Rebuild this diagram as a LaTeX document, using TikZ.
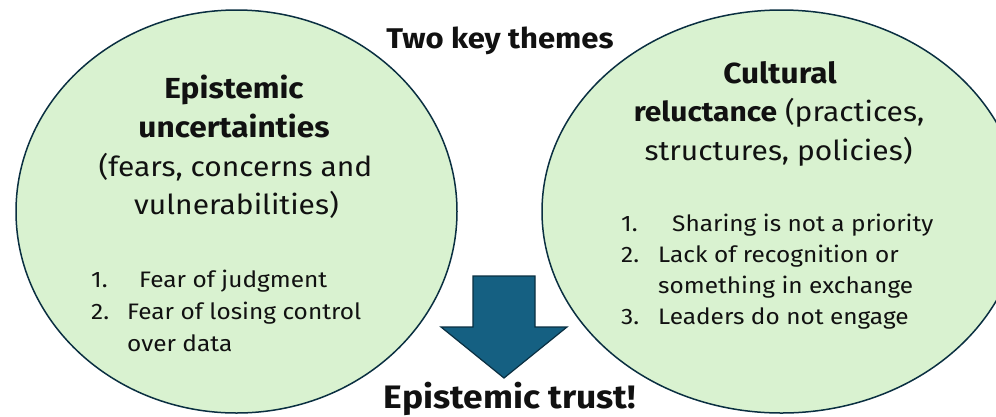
\documentclass[tikz,border=0pt]{standalone}
\usepackage{fontspec}
\setmainfont{Fira Sans}[FakeStretch=1.09]
\usetikzlibrary{shapes.geometric}
\definecolor{bubblefill}{HTML}{D9F2D0}
\definecolor{outline}{HTML}{0A2F41}
\definecolor{arrowfill}{HTML}{156082}
\definecolor{ink}{HTML}{111111}
\begin{document}
\begin{tikzpicture}[x=1pt,y=-1pt,
  bubble/.style={ellipse, draw=outline, line width=1.5pt, fill=bubblefill, inner sep=0pt},
  headbold/.style={font=\fontsize{29}{34}\selectfont\bfseries, anchor=base, inner sep=0pt, text=ink},
  headreg/.style={font=\fontsize{27.5}{33}\selectfont, anchor=base, inner sep=0pt, text=ink},
  item/.style={font=\fontsize{22.4}{27}\selectfont, anchor=base west, inner sep=0pt, text=ink},
  title/.style={font=\fontsize{28.5}{34}\selectfont\bfseries, anchor=base, inner sep=0pt, text=ink},
  bigtitle/.style={font=\fontsize{32.5}{39}\selectfont\bfseries, anchor=base, inner sep=0pt, text=ink},
  downarrow/.style={fill=arrowfill, draw=outline, line width=1.2pt, line join=miter},
]
\useasboundingbox (0,0) rectangle (996,416);
\fill[white] (0,0) rectangle (996,416);

% the two theme bubbles
\node[bubble, minimum width=441pt, minimum height=403pt] (uncert) at (236.5,211.5) {};
\node[bubble, minimum width=479pt, minimum height=403pt] (reluct) at (781.5,211.5) {};

% left theme
\node[headbold] (u1) at (234,98) {Epistemic};
\node[headbold] (u2) at (234,137) {uncertainties};
\node[headreg] (u3) at (235.5,176) {(fears, concerns and};
\node[headreg] (u4) at (236.5,214) {vulnerabilities)};
\node[item] (un1) at (91,287) {1.};
\node[item] (ut1) at (139,287) {Fear of judgment};
\node[item] (un2) at (91,319) {2.};
\node[item] (ut2) at (127,319) {Fear of losing control};
\node[item] (ut2b) at (127,351) {over data};

% right theme
\node[headbold] (c1) at (780,83) {Cultural};
\node[headreg] (c2) at (779,121) {\textbf{reluctance} (practices,};
\node[headreg] (c3) at (778.5,160) {structures, policies)};
\node[item] (cn1) at (621,231) {1.};
\node[item] (ct1) at (672,231) {Sharing is not a priority};
\node[item] (cn2) at (621,262) {2.};
\node[item] (ct2) at (658,262) {Lack of recognition or};
\node[item] (ct2b) at (658,293) {something in exchange};
\node[item] (cn3) at (621,324) {3.};
\node[item] (ct3) at (658,324) {Leaders do not engage};

% titles
\node[title] (top) at (500,48) {Two key themes};
\node[bigtitle] (trust) at (510,408) {Epistemic trust!};

% block arrow pointing to the conclusion
\draw[downarrow] (473,276) -- (535,276) -- (535,327) -- (567,327) -- (504,378)
  -- (441,327) -- (473,327) -- cycle;
\end{tikzpicture}
\end{document}
